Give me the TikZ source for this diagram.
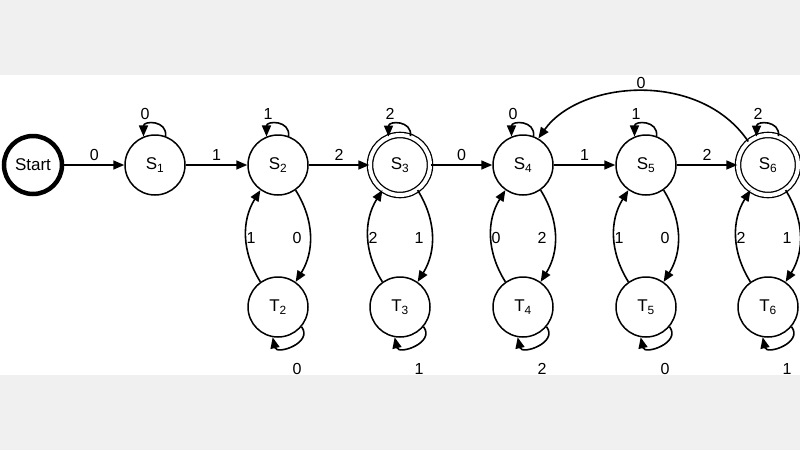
\documentclass[tikz,border=0pt]{standalone}
\usepackage{fontspec}
\setmainfont{Liberation Sans}
\usetikzlibrary{arrows.meta}
\begin{document}
\begin{tikzpicture}[x=1pt,y=-1pt,
  st/.style={circle,draw,line width=1.5pt,minimum size=60pt,inner sep=0pt,font=\fontsize{17}{17}\selectfont},
  acc/.style={st,double,double distance=4pt,line width=1.3pt},
  startst/.style={st,line width=4.5pt,minimum size=58pt},
  ar/.style={-{Triangle[length=11pt,width=9pt]},line width=1.6pt},
  lb/.style={font=\fontsize{16}{16}\selectfont}]
\useasboundingbox (0,0) rectangle (800,450);
\fill[gray!12] (0,0) rectangle (800,75);
\fill[gray!12] (0,375) rectangle (800,450);
\node[startst] (st) at (33,165) {Start};
\node[st] (s1) at (155,165) {S\textsubscript{1}};
\node[st] (s2) at (278,165) {S\textsubscript{2}};
\node[acc] (s3) at (400,165) {S\textsubscript{3}};
\node[st] (s4) at (523,165) {S\textsubscript{4}};
\node[st] (s5) at (646,165) {S\textsubscript{5}};
\node[acc] (s6) at (768,165) {S\textsubscript{6}};
\foreach \i/\x in {2/278,3/400,4/523,5/646,6/768}
  \node[st] (t\i) at (\x,307) {T\textsubscript{\i}};
\draw[ar] (st) -- node[lb,above]{0} (s1);
\draw[ar] (s1) -- node[lb,above]{1} (s2);
\draw[ar] (s2) -- node[lb,above]{2} (s3);
\draw[ar] (s3) -- node[lb,above]{0} (s4);
\draw[ar] (s4) -- node[lb,above]{1} (s5);
\draw[ar] (s5) -- node[lb,above]{2} (s6);
\draw[ar] (s6.130) .. controls (700,70) and (580,80) .. (s4.60);
\node[lb] (l64) at (641,83) {0};
\foreach \n/\a in {s1/0,s2/1,s3/2,s4/0,s5/1,s6/2}{
  \draw[ar] (\n.70) .. controls +(2,-16) and +(0,-16) .. (\n.112);
  \path (\n.north) ++(-10,-20) node[lb] {\a};
}
\foreach \i/\l/\r/\b in {2/1/0/0,3/2/1/1,4/0/2/2,5/1/0/0,6/2/1/1}{
  \draw[ar] (s\i.-55) to[bend left=32] (t\i.55);
  \draw[ar] (t\i.125) to[bend left=32] (s\i.-125);
  \path (s\i.south) ++(-27,42) node[lb] {\l};
  \path (s\i.south) ++(19,42) node[lb] {\r};
  \draw[ar] (t\i.-40) .. controls +(12,16) and +(4,18) .. (t\i.-100);
  \path (t\i.south) ++(19,31) node[lb] {\b};
}
\end{tikzpicture}
\end{document}
